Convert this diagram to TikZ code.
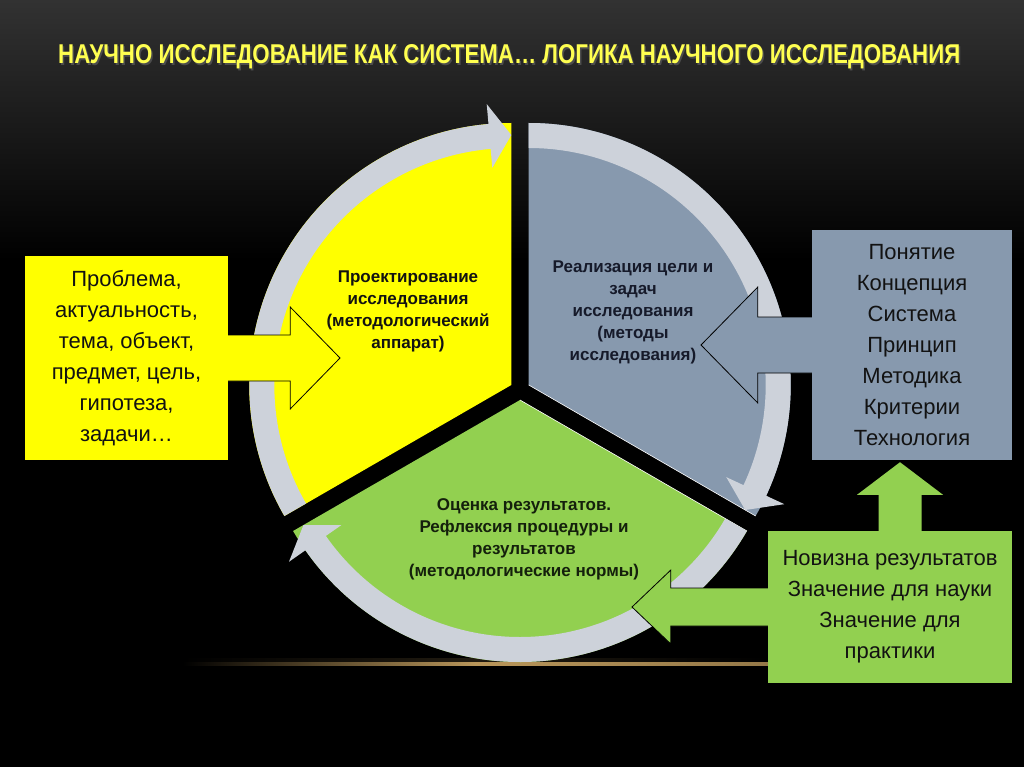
\documentclass[tikz,border=0pt]{standalone}
\usepackage{fontspec}
\usepackage{graphicx}
\setmainfont{Liberation Sans}
\usetikzlibrary{calc}
\definecolor{segyellow}{RGB}{255,255,0}
\definecolor{seggreen}{RGB}{146,208,80}
\definecolor{segblue}{RGB}{135,153,174}
\definecolor{bandgray}{RGB}{205,210,218}
\definecolor{titleyellow}{RGB}{255,255,80}
\definecolor{bgtop}{RGB}{50,50,50}
\definecolor{glowcol}{RGB}{185,150,90}
\definecolor{inkdark}{RGB}{18,18,18}
\definecolor{inknavy}{RGB}{22,26,42}
\definecolor{inkgreen}{RGB}{20,32,12}
\newcommand{\cyclearrow}[3]{%
  \fill[bandgray] ($(#1)+(#2:237)$) arc[start angle=#2, end angle=#3-5, radius=237]
    -- ($(#1)+({#3-5}:218)$) -- ($(#1)+(#3:250)$) -- ($(#1)+({#3-5}:282)$)
    -- ($(#1)+({#3-5}:262)$) arc[start angle=#3-5, end angle=#2, radius=262] -- cycle;}
\begin{document}
\begin{tikzpicture}[x=1pt,y=-1pt,
  boxtext/.style={inner sep=0pt, align=center, text=inkdark, font=\fontsize{22}{31}\selectfont},
  segtext/.style={inner sep=0pt, align=center, text=inkdark, font=\bfseries\fontsize{17}{22}\selectfont},
  outline/.style={draw=black, line width=0.8pt, line join=miter}]
\useasboundingbox (0,0) rectangle (1024,767);
% background
\fill[black] (0,0) rectangle (1024,767);
\shade[top color=bgtop, bottom color=black] (0,0) rectangle (1024,260);
\shade[left color=black, right color=black, middle color=glowcol!18!black] (183,658) rectangle (768,663);
\shade[left color=black, right color=glowcol!80!black, middle color=glowcol] (183,662.5) rectangle (768,665.5);
% title
\node[anchor=base west, inner sep=0pt, text=black!70] (titleshadow) at (59.5,65.5)
  {\resizebox{902pt}{19pt}{\bfseries НАУЧНО ИССЛЕДОВАНИЕ КАК СИСТЕМА… ЛОГИКА НАУЧНОГО ИССЛЕДОВАНИЯ}};
\node[anchor=base west, inner sep=0pt, text=titleyellow] (title) at (58,64)
  {\resizebox{902pt}{19pt}{\bfseries НАУЧНО ИССЛЕДОВАНИЕ КАК СИСТЕМА… ЛОГИКА НАУЧНОГО ИССЛЕДОВАНИЯ}};
% segment centres
\coordinate (cY) at (511.3,385);
\coordinate (cB) at (528.7,385);
\coordinate (cG) at (520,400);
% segments
\fill[segyellow] (cY) -- ($(cY)+(150:262)$) arc[start angle=150, end angle=270, radius=262] -- cycle;
\fill[segblue] (cB) -- ($(cB)+(270:262)$) arc[start angle=270, end angle=390, radius=262] -- cycle;
\draw[white, line width=0.6pt] ($(cB)+(30:262)$) -- (cB);
\fill[seggreen] (cG) -- ($(cG)+(30:262)$) arc[start angle=30, end angle=150, radius=262] -- cycle;
\draw[white, line width=0.6pt] ($(cG)+(30:262)$) -- (cG);
% circular arrows
\cyclearrow{cY}{150}{270}
\cyclearrow{cB}{270}{390}
\cyclearrow{cG}{30}{150}
% side boxes
\node[boxtext, fill=segyellow, minimum width=203pt, minimum height=204pt] (lbox) at (126.5,358)
  {Проблема,\\актуальность,\\тема, объект,\\предмет, цель,\\гипотеза,\\задачи…};
\node[boxtext, fill=segblue, minimum width=200pt, minimum height=230pt] (rbox) at (912,345)
  {Понятие\\Концепция\\Система\\Принцип\\Методика\\Критерии\\Технология};
\node[boxtext, fill=seggreen, minimum width=244pt, minimum height=152pt] (gbox) at (890,607)
  {Новизна результатов\\Значение для науки\\Значение для\\практики};
% block arrows
\coordinate (ltip) at (340,358);
\fill[segyellow] ($(lbox.east)+(0,-23)$) -- ($(lbox.east)+(62,-23)$) -- ($(lbox.east)+(62,-51)$) -- (ltip)
  -- ($(lbox.east)+(62,51)$) -- ($(lbox.east)+(62,23)$) -- ($(lbox.east)+(0,23)$) -- cycle;
\draw[outline] ($(lbox.east)+(0,-23)$) -- ($(lbox.east)+(62,-23)$) -- ($(lbox.east)+(62,-51)$) -- (ltip)
  -- ($(lbox.east)+(62,51)$) -- ($(lbox.east)+(62,23)$) -- ($(lbox.east)+(0,23)$);
\coordinate (rtip) at (701,345);
\fill[segblue] ($(rbox.west)+(0,-28)$) -- ($(rbox.west)+(-54,-28)$) -- ($(rbox.west)+(-54,-58)$) -- (rtip)
  -- ($(rbox.west)+(-54,58)$) -- ($(rbox.west)+(-54,28)$) -- ($(rbox.west)+(0,28)$) -- cycle;
\draw[outline] ($(rbox.west)+(0,-28)$) -- ($(rbox.west)+(-54,-28)$) -- ($(rbox.west)+(-54,-58)$) -- (rtip)
  -- ($(rbox.west)+(-54,58)$) -- ($(rbox.west)+(-54,28)$) -- ($(rbox.west)+(0,28)$);
\coordinate (gtip) at (632,607);
\fill[seggreen] ($(gbox.west)+(0,-19)$) -- ($(gbox.west)+(-97,-19)$) -- ($(gbox.west)+(-97,-37)$) -- (gtip)
  -- ($(gbox.west)+(-97,37)$) -- ($(gbox.west)+(-97,19)$) -- ($(gbox.west)+(0,19)$) -- cycle;
\draw[outline] ($(gbox.west)+(0,-19)$) -- ($(gbox.west)+(-97,-19)$) -- ($(gbox.west)+(-97,-37)$) -- (gtip)
  -- ($(gbox.west)+(-97,37)$) -- ($(gbox.west)+(-97,19)$) -- ($(gbox.west)+(0,19)$);
\coordinate (ubase) at ($(gbox.north)+(10,0)$);
\coordinate (utip) at ($(rbox.south)+(-12,2)$);
\fill[seggreen] ($(ubase)+(-21.5,0)$) -- ($(ubase)+(-21.5,-36)$) -- ($(ubase)+(-43,-36)$) -- (utip)
  -- ($(ubase)+(43,-36)$) -- ($(ubase)+(21.5,-36)$) -- ($(ubase)+(21.5,0)$) -- cycle;
% segment labels
\node[segtext] (ytext) at (408,311) {Проектирование\\исследования\\(методологический\\аппарат)};
\node[segtext, text=inknavy] (btext) at (633,312) {Реализация цели и\\задач\\исследования\\(методы\\исследования)};
\node[segtext, text=inkgreen] (gtext) at (524,539) {Оценка результатов.\\Рефлексия процедуры и\\результатов\\(методологические нормы)};
\end{tikzpicture}
\end{document}
